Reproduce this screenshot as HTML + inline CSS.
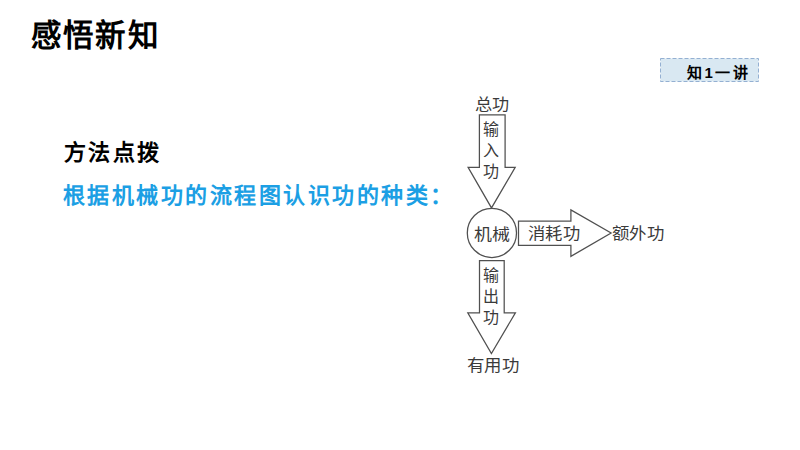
<!DOCTYPE html>
<html lang="zh-CN">
<head>
<meta charset="utf-8">
<style>
html,body{margin:0;padding:0;background:#fff;}
body{width:800px;height:450px;position:relative;overflow:hidden;font-family:"Liberation Sans",sans-serif;}
.t{position:absolute;white-space:nowrap;line-height:1;}
#title{left:30.5px;top:19.5px;font-size:30.5px;letter-spacing:2.4px;font-weight:bold;color:#000;}
#tagt{left:687px;top:64.5px;font-size:15px;letter-spacing:2.5px;font-weight:bold;color:#000;}
#h1{left:63.5px;top:141.5px;font-size:22px;font-weight:bold;color:#000;letter-spacing:2.5px;}
#h2{left:62.5px;top:185px;font-size:22px;font-weight:bold;color:#1c9fe4;letter-spacing:2.5px;}
.d{color:#3a3a3a;font-size:16px;}
.s{transform-origin:0 0;}
.v{width:16px;line-height:21px;white-space:normal;text-align:center;}
</style>
</head>
<body>
<div class="t" id="title">感悟新知</div>
<svg id="tag" width="800" height="450" style="position:absolute;left:0;top:0"><rect x="660.5" y="58.5" width="98" height="23" fill="#d9e8f2" stroke="#94b0d2" stroke-width="1" stroke-dasharray="4 2"/></svg>
<div class="t" id="tagt">知1一讲</div>
<div class="t" id="h1">方法点拨</div>
<div class="t" id="h2">根据机械功的流程图认识功的种类：</div>

<svg width="800" height="450" style="position:absolute;left:0;top:0">
<g fill="none" stroke="#505050" stroke-width="1.25">
<path d="M479.4 114.9 H505.1 V167.4 H515.2 L491.5 207.9 L468.1 167.4 H479.4 Z"/>
<circle cx="491.9" cy="232.9" r="24.6"/>
<path d="M518.5 221 H570.9 V209.9 L611.1 233 L570.9 256.4 V245.4 H518.5 Z"/>
<path d="M479.5 260.7 H504.2 V312.8 H515.4 L491.4 353.6 L467.8 312.8 H479.5 Z"/>
</g>
</svg>
<div class="t d s" style="left:475px;top:96.5px;transform:scaleX(1.07)">总功</div>
<div class="t d v" style="left:483px;top:119px">输入功</div>
<div class="t d s" style="left:474px;top:227px;transform:scaleX(1.12)">机械</div>
<div class="t d s" style="left:528px;top:226px;transform:scaleX(1.08)">消耗功</div>
<div class="t d s" style="left:612px;top:225.5px;transform:scaleX(1.09)">额外功</div>
<div class="t d v" style="left:483px;top:265px">输出功</div>
<div class="t d s" style="left:466.8px;top:357.5px;transform:scaleX(1.09)">有用功</div>
</body>
</html>
